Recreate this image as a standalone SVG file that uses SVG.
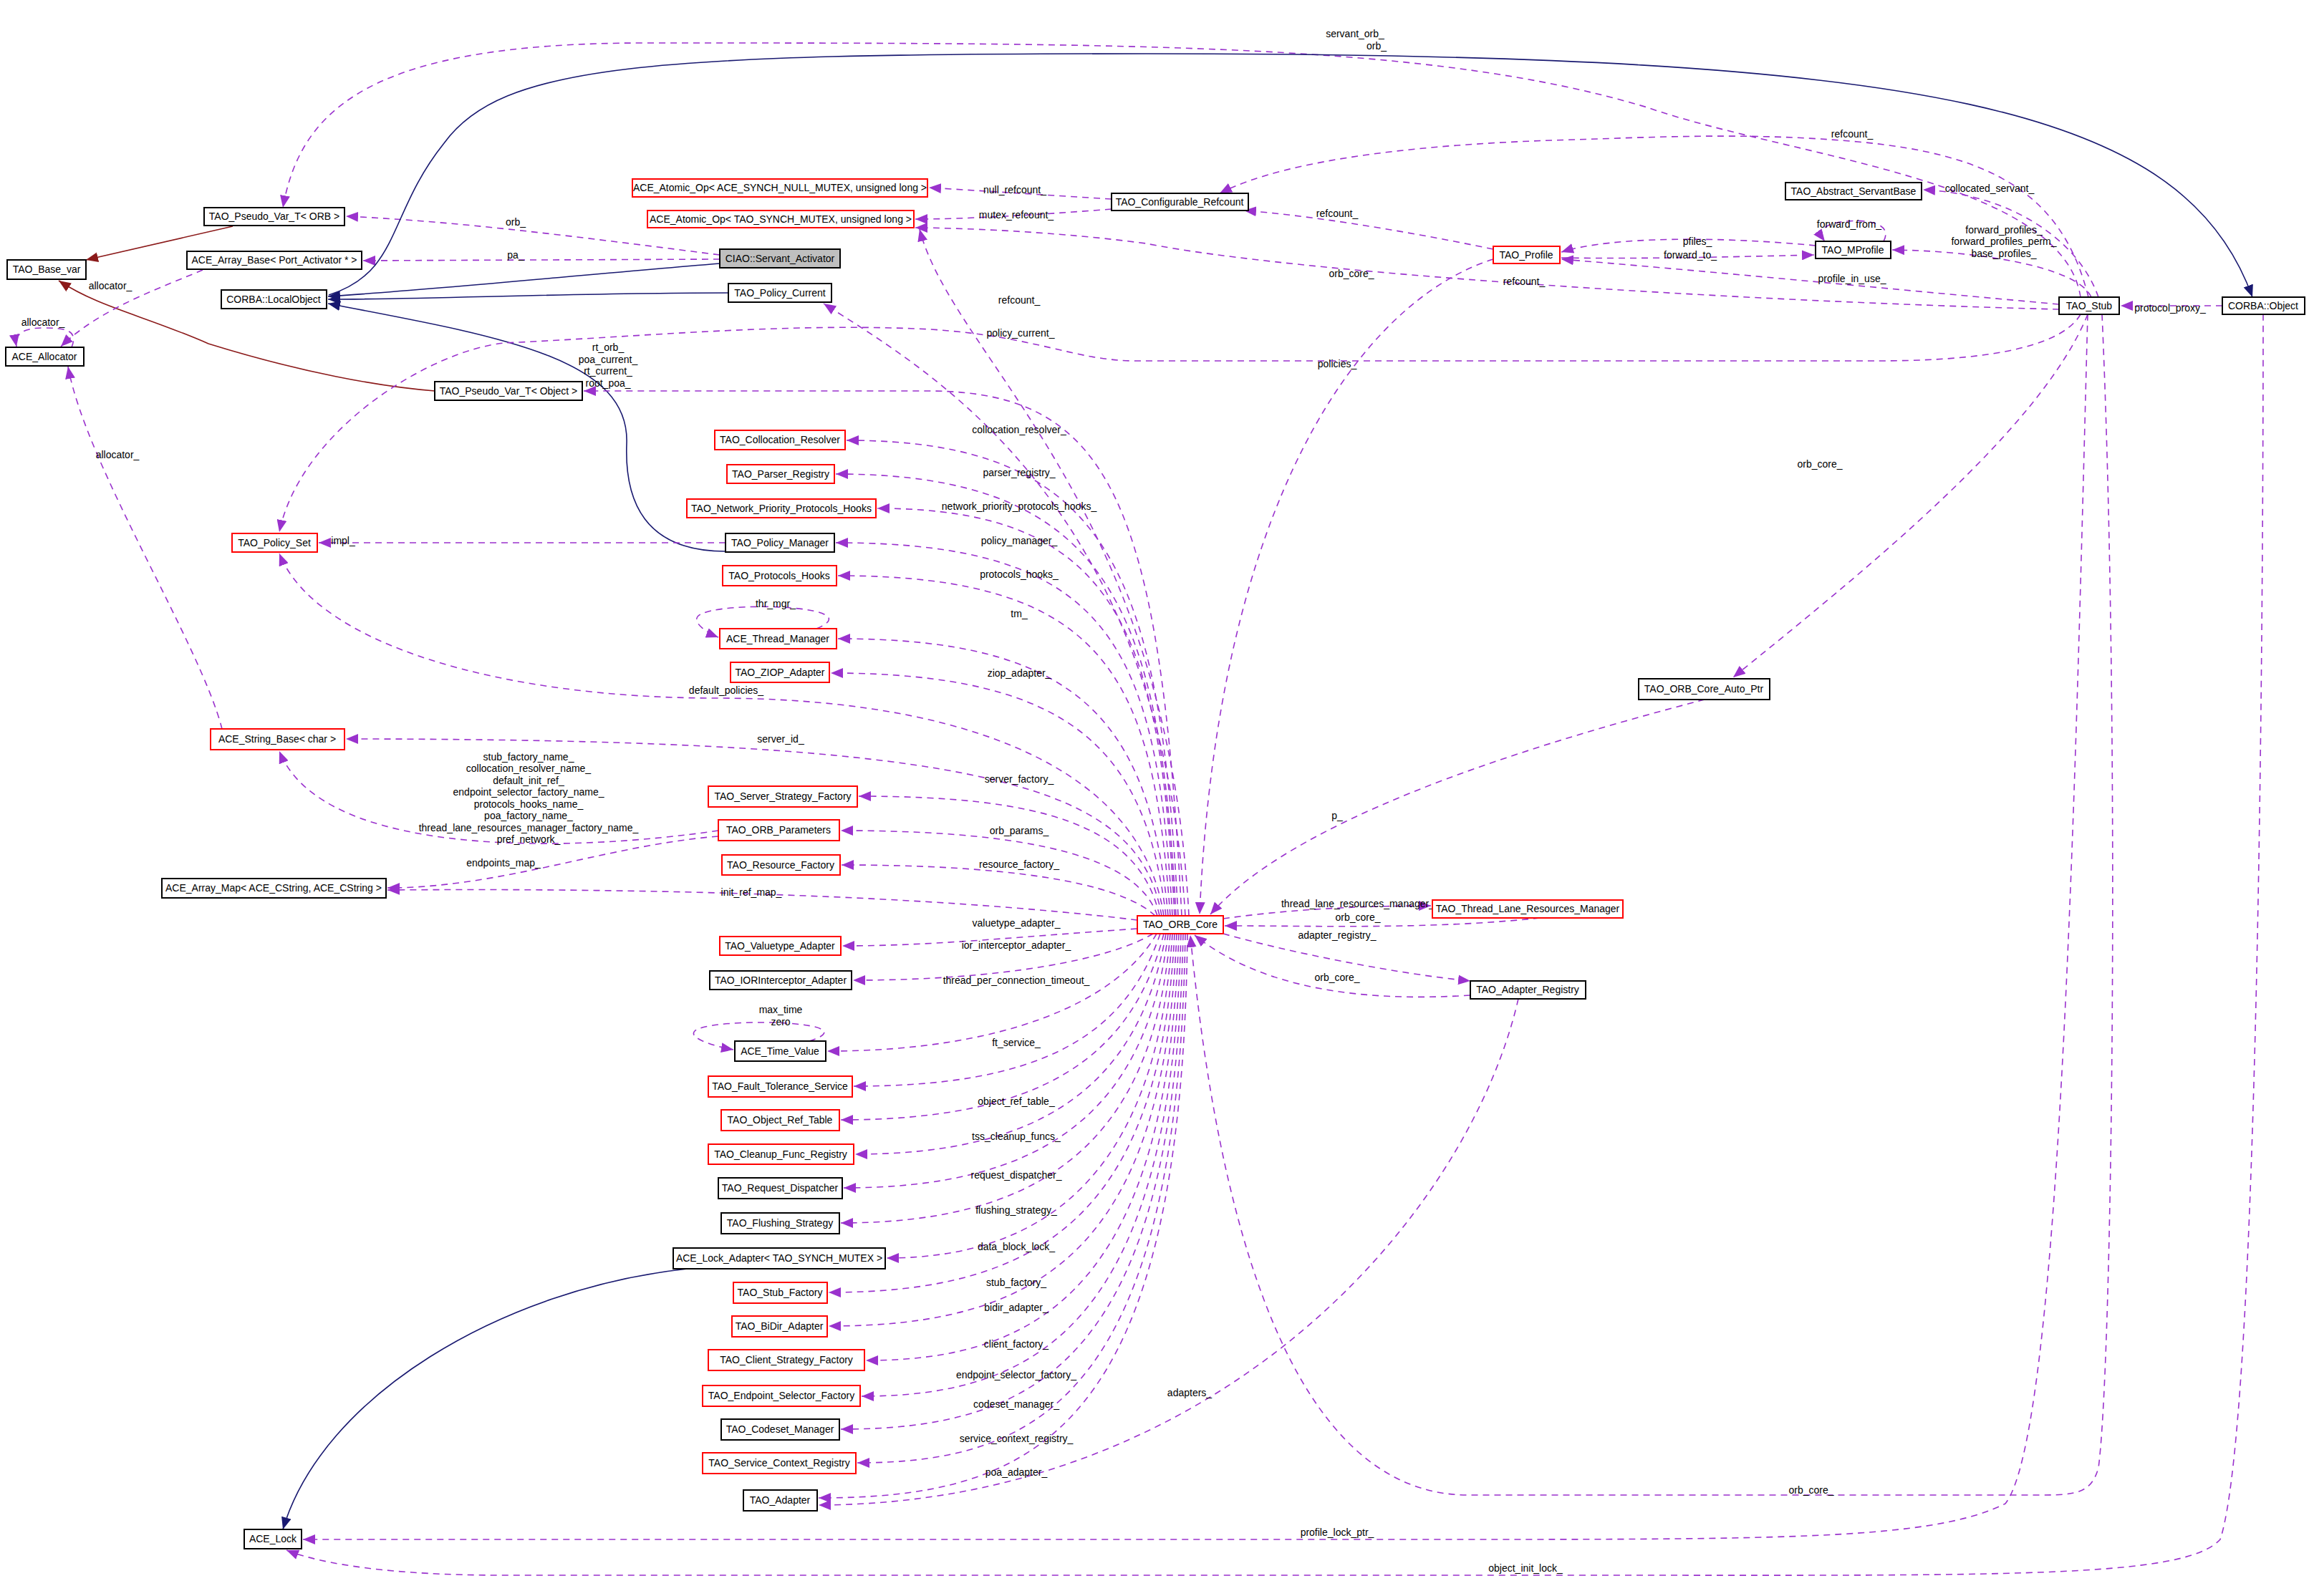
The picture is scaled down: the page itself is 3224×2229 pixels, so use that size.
<svg xmlns="http://www.w3.org/2000/svg" width="3224" height="2229" viewBox="0 0 3224 2229">
<style>
text{font-family:"Liberation Sans",Arial,sans-serif;font-size:14px;fill:#000}
.n text{text-anchor:middle}
.k{fill:#fff;stroke:#000;stroke-width:2}
.r{fill:#fff;stroke:#ff0000;stroke-width:2}
.g{fill:#bfbfbf;stroke:#000;stroke-width:2}
.e{fill:none;stroke:#9a32cd;stroke-width:1.6;stroke-dasharray:9,7;marker-end:url(#ap)}
.i{fill:none;stroke:#191970;stroke-width:1.6;marker-end:url(#an)}
.t{fill:none;stroke:#8b1a1a;stroke-width:1.6;marker-end:url(#ar)}
.l{text-anchor:middle}
</style>
<defs>
<marker id="ap" markerUnits="userSpaceOnUse" markerWidth="18" markerHeight="14" refX="17" refY="7" orient="auto"><path d="M0,0 L17,7 L0,14 z" fill="#9a32cd"/></marker>
<marker id="an" markerUnits="userSpaceOnUse" markerWidth="18" markerHeight="14" refX="17" refY="7" orient="auto"><path d="M0,0 L17,7 L0,14 z" fill="#191970"/></marker>
<marker id="ar" markerUnits="userSpaceOnUse" markerWidth="18" markerHeight="14" refX="17" refY="7" orient="auto"><path d="M0,0 L17,7 L0,14 z" fill="#8b1a1a"/></marker>
</defs>
<rect width="3224" height="2229" fill="#fff"/>
<g id="edges">
<path class="e" d="M2905,415 C2880,250 2500,220 2300,150 C2000,60 1600,60 900,60 C520,60 420,150 395,290"/>
<path class="e" d="M1005,356 C800,330 650,310 483,302"/>
<path class="e" d="M1005,362 L507,364"/>
<path class="i" d="M1005,368 C800,385 600,405 458,414"/>
<path class="i" d="M1017,409 C800,409 600,418 458,418"/>
<path class="i" d="M1013,770 C900,770 872,700 875,620 C880,500 700,470 458,424"/>
<path class="i" d="M459,412 C560,380 540,300 620,200 C700,90 900,75 1600,75 C2700,75 3050,150 3145,415"/>
<path class="t" d="M325,316 L120,363"/>
<path class="t" d="M607,546 C530,540 420,520 291,480 C200,440 140,430 82,392"/>
<path class="e" d="M283,377 C230,400 140,430 85,484"/>
<path class="e" d="M100,485 C110,460 90,458 60,458 C30,458 20,468 23,484"/>
<path class="e" d="M310,1018 C280,900 120,650 95,512"/>
<path class="e" d="M2875,432 C2400,420 1800,380 1600,340 C1450,320 1300,318 1278,318"/>
<path class="e" d="M2085,348 C1950,320 1820,300 1737,294"/>
<path class="e" d="M1552,278 L1297,262"/>
<path class="e" d="M1552,292 C1450,300 1350,306 1278,306"/>
<path class="e" d="M2916,415 C2880,270 2780,215 2594,198 C2450,185 2323,191 2200,195 C2000,200 1800,220 1703,270"/>
<path class="e" d="M2875,425 C2600,400 2400,380 2180,362"/>
<path class="e" d="M2920,415 C2900,370 2750,350 2642,349"/>
<path class="e" d="M2930,415 C2900,330 2800,270 2685,265"/>
<path class="e" d="M2535,343 C2400,330 2250,330 2180,352"/>
<path class="e" d="M2180,360 C2300,362 2450,358 2533,356"/>
<path class="e" d="M2630,337 C2650,300 2560,305 2548,318 C2540,325 2545,333 2548,337"/>
<path class="e" d="M3103,427 L2961,427"/>
<path class="e" d="M2905,439 C2870,500 2700,504 2619,504 L1587,504 C1500,504 1450,470 1300,460 C1100,450 900,470 704,479 C600,490 420,600 390,743"/>
<path class="e" d="M2915,439 C2850,600 2600,800 2420,946"/>
<path class="e" d="M2380,977 C2100,1050 1800,1150 1690,1277"/>
<path class="e" d="M1708,1283 C1800,1270 1900,1265 1998,1265"/>
<path class="e" d="M2150,1282 C2000,1298 1850,1293 1710,1293"/>
<path class="e" d="M1708,1304 C1800,1330 1950,1360 2053,1370"/>
<path class="e" d="M2053,1390 C1900,1400 1760,1380 1668,1306"/>
<path class="e" d="M2120,1395 C2050,1700 1700,2100 1143,2102"/>
<path class="e" d="M2085,362 C1900,420 1700,700 1675,1277"/>
<path class="e" d="M2935,439 C2960,1000 2950,1900 2930,2050 C2920,2085 2900,2088 2850,2088 L2050,2088 C1800,2088 1700,1700 1662,1306"/>
<path class="e" d="M2915,439 C2900,1000 2880,2000 2800,2100 C2700,2150 2500,2150 2000,2150 L423,2150"/>
<path class="e" d="M3160,439 C3160,1000 3150,2000 3100,2150 C3050,2205 2800,2200 2200,2200 L700,2200 C550,2200 450,2185 400,2165"/>
<path class="i" d="M960,1772 C700,1800 450,1950 395,2136"/>
<path class="e" d="M1660,1279 C1630,700 1330,500 1284,320"/>
<path class="e" d="M1655,1279 C1620,700 1300,520 1150,424"/>
<path class="e" d="M1650,1279 C1620,700 1550,548 1300,546 L815,546"/>
<path class="e" d="M1645,1279 C1620,800 1550,615 1182,615"/>
<path class="e" d="M1642,1279 C1620,850 1550,662 1167,662"/>
<path class="e" d="M1640,1279 C1620,880 1560,710 1225,710"/>
<path class="e" d="M1637,1279 C1615,900 1550,758 1167,758"/>
<path class="e" d="M1013,758 L445,758"/>
<path class="e" d="M1634,1279 C1610,950 1550,804 1170,804"/>
<path class="e" d="M1631,1279 C1605,1000 1500,892 1170,892"/>
<path class="e" d="M1140,878 C1220,845 1000,838 975,860 C965,870 990,885 1003,890"/>
<path class="e" d="M1628,1279 C1600,1050 1500,940 1160,940"/>
<path class="e" d="M1625,1279 C1590,1050 1300,975 1000,975 C700,975 440,900 390,773"/>
<path class="e" d="M1622,1279 C1590,1100 1400,1032 483,1032"/>
<path class="e" d="M1619,1279 C1590,1150 1450,1112 1199,1112"/>
<path class="e" d="M1616,1279 C1590,1200 1450,1160 1174,1160"/>
<path class="e" d="M1003,1160 C800,1190 450,1200 390,1049"/>
<path class="e" d="M1003,1168 C850,1180 700,1240 541,1240"/>
<path class="e" d="M1613,1279 C1560,1230 1400,1208 1175,1208"/>
<path class="e" d="M1588,1285 C1300,1250 900,1240 541,1243"/>
<path class="e" d="M1588,1297 C1400,1310 1300,1321 1176,1321"/>
<path class="e" d="M1610,1304 C1550,1340 1400,1369 1191,1369"/>
<path class="e" d="M1615,1304 C1560,1400 1400,1468 1155,1468"/>
<path class="e" d="M1130,1454 C1220,1425 990,1420 970,1440 C960,1450 1000,1462 1024,1466"/>
<path class="e" d="M1620,1304 C1570,1450 1450,1517 1192,1517"/>
<path class="e" d="M1625,1304 C1580,1480 1450,1564 1174,1564"/>
<path class="e" d="M1628,1304 C1590,1520 1450,1612 1194,1612"/>
<path class="e" d="M1631,1304 C1600,1560 1450,1659 1178,1659"/>
<path class="e" d="M1634,1304 C1610,1600 1450,1708 1174,1708"/>
<path class="e" d="M1637,1304 C1615,1650 1450,1757 1238,1757"/>
<path class="e" d="M1640,1304 C1620,1700 1450,1805 1157,1805"/>
<path class="e" d="M1643,1304 C1625,1750 1450,1852 1157,1852"/>
<path class="e" d="M1646,1304 C1630,1800 1450,1900 1209,1900"/>
<path class="e" d="M1649,1304 C1635,1850 1450,1950 1203,1950"/>
<path class="e" d="M1652,1304 C1640,1900 1450,1996 1174,1996"/>
<path class="e" d="M1655,1304 C1645,1950 1450,2043 1197,2043"/>
<path class="e" d="M1658,1304 C1650,2000 1450,2092 1143,2092"/>
</g>
<g id="labels">
<text class="l" x="1892" y="52">servant_orb_</text>
<text class="l" x="1922" y="69">orb_</text>
<text class="l" x="2586" y="192">refcount_</text>
<text class="l" x="1417" y="270">null_refcount_</text>
<text class="l" x="1419" y="305">mutex_refcount_</text>
<text class="l" x="720" y="315">orb_</text>
<text class="l" x="720" y="361">pa_</text>
<text class="l" x="1867" y="303">refcount_</text>
<text class="l" x="2778" y="268">collocated_servant_</text>
<text class="l" x="2582" y="318">forward_from_</text>
<text class="l" x="2370" y="342">pfiles_</text>
<text class="l" x="2360" y="361">forward_to_</text>
<text class="l" x="2798" y="326">forward_profiles_</text>
<text class="l" x="2798" y="342">forward_profiles_perm_</text>
<text class="l" x="2798" y="359">base_profiles_</text>
<text class="l" x="1887" y="387">orb_core_</text>
<text class="l" x="2128" y="398">refcount_</text>
<text class="l" x="2586" y="394">profile_in_use_</text>
<text class="l" x="3030" y="435">protocol_proxy_</text>
<text class="l" x="1423" y="424">refcount_</text>
<text class="l" x="1425" y="470">policy_current_</text>
<text class="l" x="1867" y="513">policies_</text>
<text class="l" x="849" y="490">rt_orb_</text>
<text class="l" x="849" y="507">poa_current_</text>
<text class="l" x="849" y="523">rt_current_</text>
<text class="l" x="849" y="540">root_poa_</text>
<text class="l" x="154" y="404">allocator_</text>
<text class="l" x="60" y="455">allocator_</text>
<text class="l" x="164" y="640">allocator_</text>
<text class="l" x="1423" y="605">collocation_resolver_</text>
<text class="l" x="1423" y="665">parser_registry_</text>
<text class="l" x="1423" y="712">network_priority_protocols_hooks_</text>
<text class="l" x="479" y="760">impl_</text>
<text class="l" x="1423" y="760">policy_manager_</text>
<text class="l" x="1423" y="807">protocols_hooks_</text>
<text class="l" x="1083" y="848">thr_mgr_</text>
<text class="l" x="1423" y="862">tm_</text>
<text class="l" x="2541" y="653">orb_core_</text>
<text class="l" x="1423" y="945">ziop_adapter_</text>
<text class="l" x="1014" y="969">default_policies_</text>
<text class="l" x="1090" y="1037">server_id_</text>
<text class="l" x="1423" y="1093">server_factory_</text>
<text class="l" x="738" y="1062">stub_factory_name_</text>
<text class="l" x="738" y="1078">collocation_resolver_name_</text>
<text class="l" x="738" y="1095">default_init_ref_</text>
<text class="l" x="738" y="1111">endpoint_selector_factory_name_</text>
<text class="l" x="738" y="1128">protocols_hooks_name_</text>
<text class="l" x="738" y="1144">poa_factory_name_</text>
<text class="l" x="738" y="1161">thread_lane_resources_manager_factory_name_</text>
<text class="l" x="738" y="1177">pref_network_</text>
<text class="l" x="703" y="1210">endpoints_map_</text>
<text class="l" x="1423" y="1165">orb_params_</text>
<text class="l" x="1423" y="1212">resource_factory_</text>
<text class="l" x="1867" y="1144">p_</text>
<text class="l" x="1049" y="1251">init_ref_map_</text>
<text class="l" x="1896" y="1267">thread_lane_resources_manager_</text>
<text class="l" x="1896" y="1286">orb_core_</text>
<text class="l" x="1419" y="1294">valuetype_adapter_</text>
<text class="l" x="1867" y="1311">adapter_registry_</text>
<text class="l" x="1419" y="1325">ior_interceptor_adapter_</text>
<text class="l" x="1867" y="1370">orb_core_</text>
<text class="l" x="1419" y="1374">thread_per_connection_timeout_</text>
<text class="l" x="1090" y="1415">max_time</text>
<text class="l" x="1090" y="1432">zero</text>
<text class="l" x="1419" y="1461">ft_service_</text>
<text class="l" x="1419" y="1543">object_ref_table_</text>
<text class="l" x="1419" y="1592">tss_cleanup_funcs_</text>
<text class="l" x="1419" y="1646">request_dispatcher_</text>
<text class="l" x="1419" y="1695">flushing_strategy_</text>
<text class="l" x="1419" y="1746">data_block_lock_</text>
<text class="l" x="1419" y="1796">stub_factory_</text>
<text class="l" x="1419" y="1831">bidir_adapter_</text>
<text class="l" x="1419" y="1882">client_factory_</text>
<text class="l" x="1419" y="1925">endpoint_selector_factory_</text>
<text class="l" x="1419" y="1966">codeset_manager_</text>
<text class="l" x="1419" y="2014">service_context_registry_</text>
<text class="l" x="1419" y="2061">poa_adapter_</text>
<text class="l" x="1661" y="1950">adapters_</text>
<text class="l" x="2529" y="2086">orb_core_</text>
<text class="l" x="1867" y="2145">profile_lock_ptr_</text>
<text class="l" x="2130" y="2195">object_init_lock_</text>
</g>
<g id="n1" class="n"><rect class="k" x="285" y="290" width="196" height="25"/><text x="383" y="307">TAO_Pseudo_Var_T&lt; ORB &gt;</text></g>
<g id="n2" class="n"><rect class="k" x="10" y="363" width="110" height="27"/><text x="65" y="381">TAO_Base_var</text></g>
<g id="n3" class="n"><rect class="k" x="261" y="351" width="244" height="25"/><text x="383" y="368">ACE_Array_Base&lt; Port_Activator * &gt;</text></g>
<g id="n4" class="n"><rect class="k" x="309" y="405" width="147" height="26"/><text x="382" y="423">CORBA::LocalObject</text></g>
<g id="n5" class="n"><rect class="k" x="8" y="485" width="109" height="26"/><text x="62" y="503">ACE_Allocator</text></g>
<g id="n6" class="n"><rect class="g" x="1005" y="348" width="168" height="26"/><text x="1089" y="366">CIAO::Servant_Activator</text></g>
<g id="n7" class="n"><rect class="k" x="1017" y="396" width="144" height="26"/><text x="1089" y="414">TAO_Policy_Current</text></g>
<g id="n8" class="n"><rect class="k" x="607" y="533" width="206" height="26"/><text x="710" y="551">TAO_Pseudo_Var_T&lt; Object &gt;</text></g>
<g id="n9" class="n"><rect class="r" x="883" y="250" width="412" height="25"/><text x="1089" y="267">ACE_Atomic_Op&lt; ACE_SYNCH_NULL_MUTEX, unsigned long &gt;</text></g>
<g id="n10" class="n"><rect class="r" x="904" y="294" width="372" height="24"/><text x="1090" y="311">ACE_Atomic_Op&lt; TAO_SYNCH_MUTEX, unsigned long &gt;</text></g>
<g id="n11" class="n"><rect class="k" x="1552" y="270" width="191" height="24"/><text x="1647" y="287">TAO_Configurable_Refcount</text></g>
<g id="n12" class="n"><rect class="k" x="2493" y="255" width="190" height="24"/><text x="2588" y="272">TAO_Abstract_ServantBase</text></g>
<g id="n13" class="n"><rect class="r" x="2085" y="344" width="93" height="24"/><text x="2131" y="361">TAO_Profile</text></g>
<g id="n14" class="n"><rect class="k" x="2535" y="337" width="105" height="24"/><text x="2587" y="354">TAO_MProfile</text></g>
<g id="n15" class="n"><rect class="k" x="2875" y="415" width="84" height="24"/><text x="2917" y="432">TAO_Stub</text></g>
<g id="n16" class="n"><rect class="k" x="3103" y="415" width="115" height="24"/><text x="3160" y="432">CORBA::Object</text></g>
<g id="n17" class="n"><rect class="r" x="998" y="601" width="182" height="27"/><text x="1089" y="619">TAO_Collocation_Resolver</text></g>
<g id="n18" class="n"><rect class="r" x="1015" y="649" width="150" height="26"/><text x="1090" y="667">TAO_Parser_Registry</text></g>
<g id="n19" class="n"><rect class="r" x="959" y="697" width="264" height="26"/><text x="1091" y="715">TAO_Network_Priority_Protocols_Hooks</text></g>
<g id="n20" class="n"><rect class="k" x="1013" y="745" width="152" height="26"/><text x="1089" y="763">TAO_Policy_Manager</text></g>
<g id="n21" class="n"><rect class="r" x="324" y="745" width="119" height="26"/><text x="383" y="763">TAO_Policy_Set</text></g>
<g id="n22" class="n"><rect class="r" x="1009" y="790" width="159" height="28"/><text x="1088" y="809">TAO_Protocols_Hooks</text></g>
<g id="n23" class="n"><rect class="r" x="1005" y="878" width="163" height="28"/><text x="1086" y="897">ACE_Thread_Manager</text></g>
<g id="n24" class="n"><rect class="r" x="1020" y="925" width="138" height="28"/><text x="1089" y="944">TAO_ZIOP_Adapter</text></g>
<g id="n25" class="n"><rect class="k" x="2288" y="948" width="183" height="29"/><text x="2379" y="967">TAO_ORB_Core_Auto_Ptr</text></g>
<g id="n26" class="n"><rect class="r" x="294" y="1018" width="187" height="29"/><text x="387" y="1037">ACE_String_Base&lt; char &gt;</text></g>
<g id="n27" class="n"><rect class="r" x="989" y="1098" width="208" height="29"/><text x="1093" y="1117">TAO_Server_Strategy_Factory</text></g>
<g id="n28" class="n"><rect class="r" x="1003" y="1145" width="169" height="29"/><text x="1087" y="1164">TAO_ORB_Parameters</text></g>
<g id="n29" class="n"><rect class="r" x="1008" y="1194" width="165" height="28"/><text x="1090" y="1213">TAO_Resource_Factory</text></g>
<g id="n30" class="n"><rect class="k" x="226" y="1227" width="313" height="27"/><text x="382" y="1245">ACE_Array_Map&lt; ACE_CString, ACE_CString &gt;</text></g>
<g id="n31" class="n"><rect class="r" x="1588" y="1279" width="120" height="25"/><text x="1648" y="1296">TAO_ORB_Core</text></g>
<g id="n32" class="n"><rect class="r" x="2000" y="1257" width="266" height="25"/><text x="2133" y="1274">TAO_Thread_Lane_Resources_Manager</text></g>
<g id="n33" class="n"><rect class="k" x="2053" y="1370" width="161" height="25"/><text x="2133" y="1387">TAO_Adapter_Registry</text></g>
<g id="n34" class="n"><rect class="r" x="1005" y="1308" width="169" height="26"/><text x="1089" y="1326">TAO_Valuetype_Adapter</text></g>
<g id="n35" class="n"><rect class="k" x="991" y="1356" width="198" height="26"/><text x="1090" y="1374">TAO_IORInterceptor_Adapter</text></g>
<g id="n36" class="n"><rect class="k" x="1026" y="1454" width="127" height="28"/><text x="1089" y="1473">ACE_Time_Value</text></g>
<g id="n37" class="n"><rect class="r" x="989" y="1503" width="201" height="29"/><text x="1089" y="1522">TAO_Fault_Tolerance_Service</text></g>
<g id="n38" class="n"><rect class="r" x="1007" y="1550" width="165" height="29"/><text x="1089" y="1569">TAO_Object_Ref_Table</text></g>
<g id="n39" class="n"><rect class="r" x="989" y="1598" width="203" height="28"/><text x="1090" y="1617">TAO_Cleanup_Func_Registry</text></g>
<g id="n40" class="n"><rect class="k" x="1003" y="1645" width="173" height="29"/><text x="1089" y="1664">TAO_Request_Dispatcher</text></g>
<g id="n41" class="n"><rect class="k" x="1007" y="1694" width="165" height="29"/><text x="1089" y="1713">TAO_Flushing_Strategy</text></g>
<g id="n42" class="n"><rect class="k" x="940" y="1743" width="296" height="29"/><text x="1088" y="1762">ACE_Lock_Adapter&lt; TAO_SYNCH_MUTEX &gt;</text></g>
<g id="n43" class="n"><rect class="r" x="1024" y="1791" width="131" height="29"/><text x="1089" y="1810">TAO_Stub_Factory</text></g>
<g id="n44" class="n"><rect class="r" x="1022" y="1838" width="133" height="29"/><text x="1088" y="1857">TAO_BiDir_Adapter</text></g>
<g id="n45" class="n"><rect class="r" x="989" y="1885" width="218" height="29"/><text x="1098" y="1904">TAO_Client_Strategy_Factory</text></g>
<g id="n46" class="n"><rect class="r" x="981" y="1935" width="220" height="29"/><text x="1091" y="1954">TAO_Endpoint_Selector_Factory</text></g>
<g id="n47" class="n"><rect class="k" x="1007" y="1982" width="165" height="29"/><text x="1089" y="2001">TAO_Codeset_Manager</text></g>
<g id="n48" class="n"><rect class="r" x="981" y="2029" width="214" height="29"/><text x="1088" y="2048">TAO_Service_Context_Registry</text></g>
<g id="n49" class="n"><rect class="k" x="1038" y="2081" width="103" height="29"/><text x="1089" y="2100">TAO_Adapter</text></g>
<g id="n50" class="n"><rect class="k" x="341" y="2136" width="80" height="27"/><text x="381" y="2154">ACE_Lock</text></g>
</svg>
